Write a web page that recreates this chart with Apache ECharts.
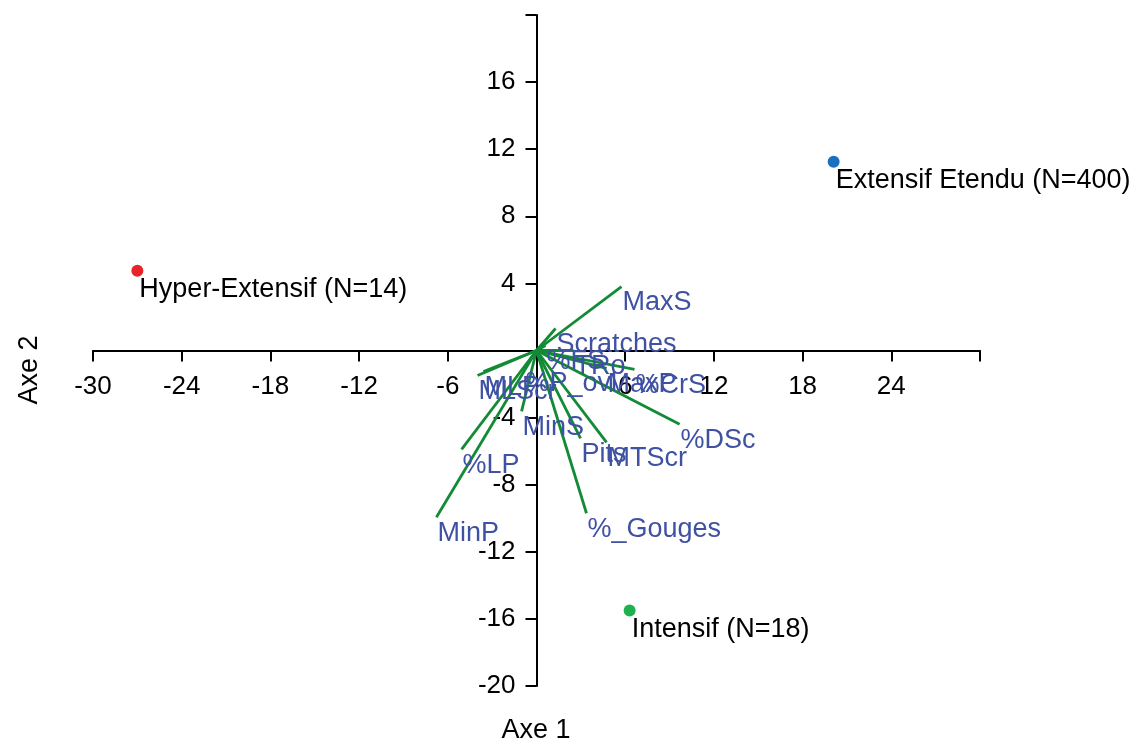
<!DOCTYPE html>
<html>
<head>
<meta charset="utf-8">
<script src="https://cdn.jsdelivr.net/npm/echarts@6/dist/echarts.min.js"></script>
<style>html,body{margin:0;padding:0;background:#fff}#c{width:1130px;height:743px}</style>
</head>
<body>
<div id="c"></div>
<script>
// Variable vectors (biplot arrows)
const vecNames = ['MaxS','Scratches','%FS','TRo','%CrS','MaxP','%DSc','MTScr','Pits','%_Gouges','MinS','%LP','MinP','MLScr','MLP','%P_ovl'];
const vecX = [5.75, 1.29, 0.61, 2.50, 6.63, 4.74, 9.68, 4.74, 2.98, 3.38, -1.01, -5.07, -6.77, -3.99, -3.59, -0.81];
const vecY = [3.81, 1.31, 0.30, 0.00, -1.13, -1.07, -4.40, -5.48, -5.24, -9.70, -3.63, -5.89, -9.94, -1.49, -1.25, -1.01];

// Group centroids
const groupNames = ['Extensif Etendu (N=400)', 'Hyper-Extensif (N=14)', 'Intensif (N=18)'];
const groupX = [20.1, -27.0, 6.3];
const groupY = [11.25, 4.76, -15.5];
const groupColors = ['#1a70c0', '#e8242a', '#1fb14f'];

// Axis ticks
const xMin = -30, xMax = 30, xStep = 6;
const yMin = -20, yMax = 20, yStep = 4;

const FONT = 'Liberation Sans, Arial, sans-serif';
const W = 1130, H = 743;
const G = { left: 93, right: 150, top: 15, bottom: 57 };
const gridW = W - G.left - G.right, gridH = H - G.top - G.bottom;

const chart = echarts.init(document.getElementById('c'));

const lineData = vecNames.map((n, i) => ({ name: n, coords: [[0, 0], [vecX[i], vecY[i]]] }));
const labelData = vecNames.map((n, i) => ({ name: n, value: [vecX[i], vecY[i]] }));
const groupData = groupNames.map((n, i) => ({ name: n, value: [groupX[i], groupY[i]], itemStyle: { color: groupColors[i], opacity: 1 } }));

const axisCommon = {
  type: 'value',
  splitLine: { show: false },
  axisLine: { onZero: false, lineStyle: { color: '#000', width: 2 } },
  axisTick: { show: true, length: 11, lineStyle: { color: '#000', width: 2 } }
};

chart.setOption({
  animation: false,
  backgroundColor: '#fff',
  grid: { left: G.left, right: G.right, top: G.top, bottom: G.bottom, containLabel: false },
  xAxis: Object.assign({}, axisCommon, {
    min: xMin, max: xMax, interval: xStep,
    position: 'bottom',
    offset: -gridH * (0 - yMin) / (yMax - yMin),
    axisLabel: {
      color: '#000', fontSize: 26, fontFamily: FONT, margin: 23,
      formatter: v => (v === 0 || v === xMax) ? '' : String(v)
    }
  }),
  yAxis: Object.assign({}, axisCommon, {
    min: yMin, max: yMax, interval: yStep,
    position: 'left',
    offset: -gridW * (0 - xMin) / (xMax - xMin),
    axisLabel: {
      color: '#000', fontSize: 26, fontFamily: FONT, margin: 21,
      formatter: v => (v === 0 || v === yMax) ? '' : String(v)
    }
  }),
  graphic: [
    { type: 'text', x: 536, y: 731, style: { text: 'Axe 1', fontSize: 27, fontFamily: FONT, fill: '#000', align: 'center', verticalAlign: 'middle' } },
    { type: 'text', x: 30, y: 370, rotation: Math.PI / 2, style: { text: 'Axe 2', fontSize: 27, fontFamily: FONT, fill: '#000', align: 'center', verticalAlign: 'middle' } }
  ],
  series: [
    {
      type: 'lines',
      coordinateSystem: 'cartesian2d',
      data: lineData,
      lineStyle: { color: '#138a36', width: 2.8, opacity: 1, curveness: 0 },
      z: 3,
      silent: true
    },
    {
      type: 'scatter',
      data: labelData,
      symbolSize: 0,
      z: 4,
      itemStyle: { opacity: 1 },
      label: {
        show: true,
        formatter: p => p.name,
        position: [1, 16],
        align: 'left',
        verticalAlign: 'middle',
        color: '#3f51a3',
        opacity: 1,
        fontSize: 27,
        fontFamily: FONT
      }
    },
    {
      type: 'scatter',
      data: groupData,
      symbol: 'circle',
      symbolSize: 12,
      z: 5,
      itemStyle: { opacity: 1 },
      label: {
        show: true,
        formatter: p => p.name,
        position: [8, 25],
        align: 'left',
        verticalAlign: 'middle',
        color: '#000',
        opacity: 1,
        fontSize: 27,
        fontFamily: FONT
      }
    }
  ]
});
</script>
</body>
</html>
